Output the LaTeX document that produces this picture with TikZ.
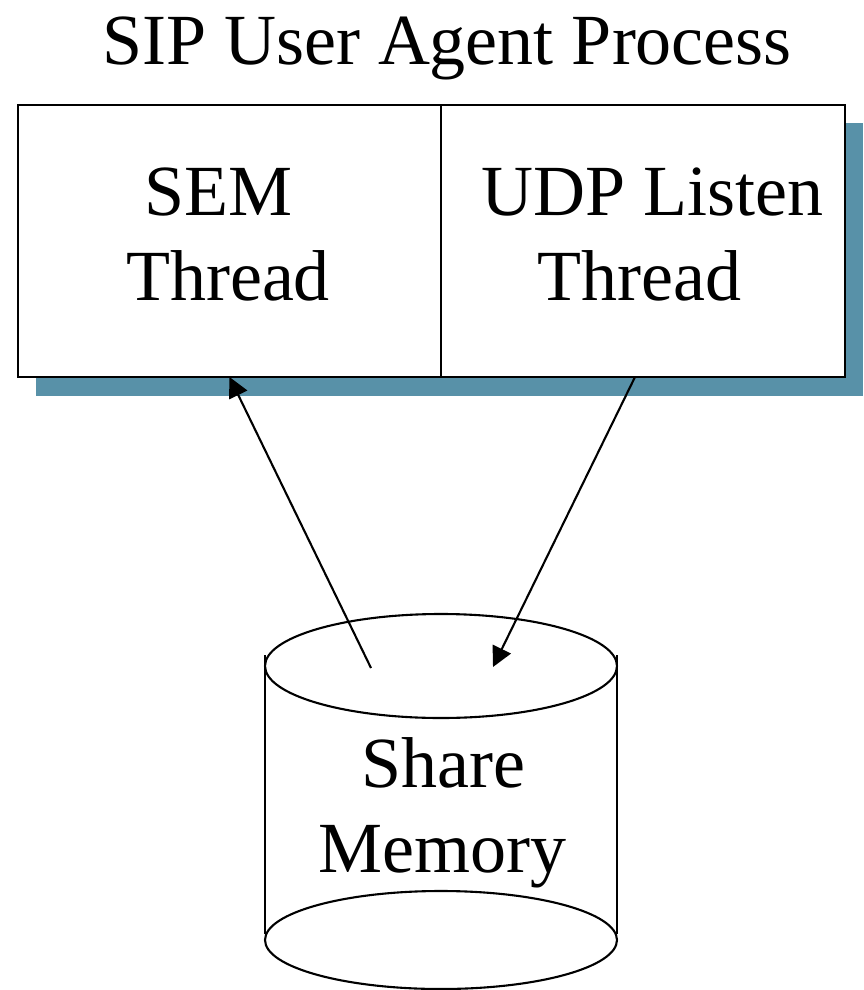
\documentclass[tikz,border=0pt]{standalone}
\usepackage{fontspec}
\setmainfont{Liberation Serif}
\usetikzlibrary{arrows.meta}
\definecolor{shadowblue}{RGB}{88,145,168}
\begin{document}
\begin{tikzpicture}[x=1pt,y=-1pt,
  lbl/.style={inner sep=0pt,outer sep=0pt,anchor=base,font=\fontsize{72}{86}\selectfont},
  boxpart/.style={draw,line width=2.3pt,fill=white,minimum height=272pt,inner sep=0pt,outer sep=0pt,anchor=north west},
  link/.style={line width=2.1pt,-{Triangle[length=20pt,width=20pt]}},
  cyl/.style={line width=2.1pt}]
\useasboundingbox (0,0) rectangle (864,990);
% shadow
\fill[shadowblue] (36,123) rectangle (863,396);
% process box split in two
\node[boxpart,minimum width=423pt] (sem) at (18,105) {};
\node[boxpart,minimum width=404pt] (udp) at (441,105) {};
% title
\node[lbl] (title) at (447,65) {SIP User Agent Process};
% labels in the box
\node[lbl] (semA) at (218.5,215) {SEM};
\node[lbl] (semB) at (228,300) {Thread};
\node[lbl] (udpA) at (652.5,215) {UDP Listen};
\node[lbl] (udpB) at (639.5,300) {Thread};
% shared memory cylinder
\draw[cyl] (441,666) ellipse [x radius=176, y radius=52];
\draw[cyl] (441,940) ellipse [x radius=176, y radius=49];
\draw[cyl] (265,655) -- (265,934);
\draw[cyl] (617,655) -- (617,934);
\node[lbl] (memA) at (443,787) {Share};
\node[lbl] (memB) at (442.5,872) {Memory};
% connectors
\coordinate (p1) at (371,668);
\coordinate (p2) at (493,667);
\draw[link] (p1) -- (sem.south);
\draw[link] ([xshift=-8pt]udp.south) -- (p2);
\end{tikzpicture}
\end{document}
